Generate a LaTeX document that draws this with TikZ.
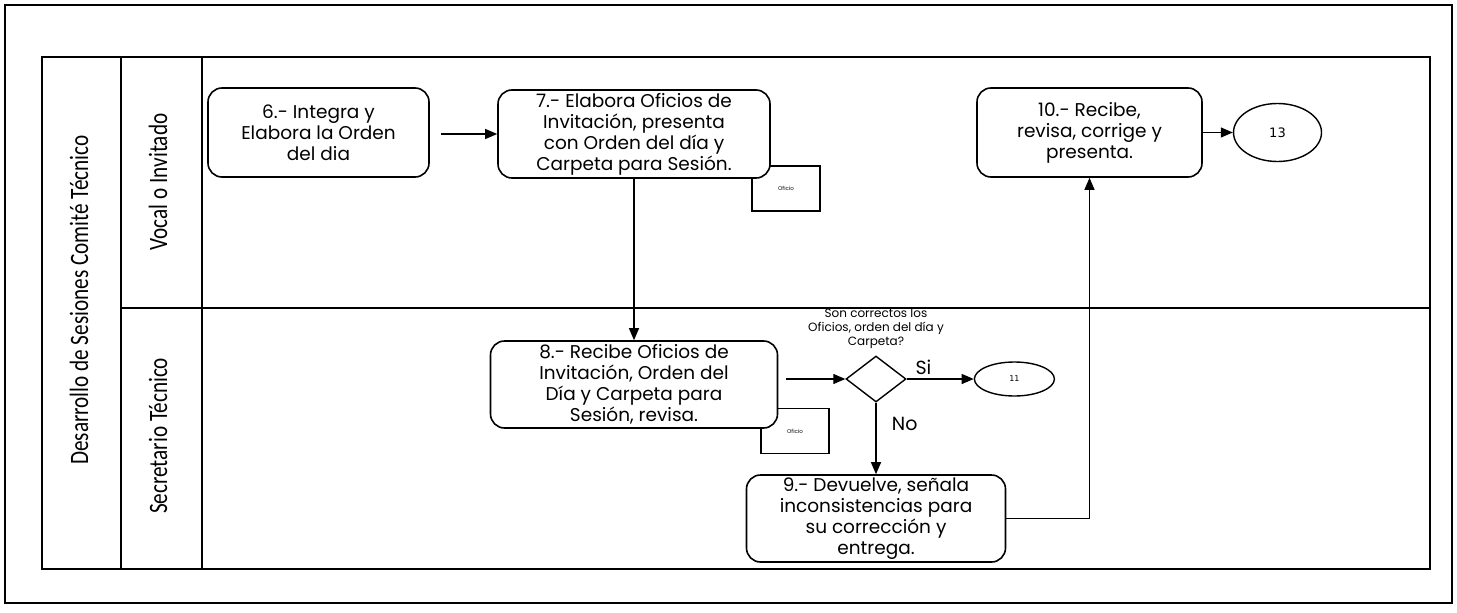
\documentclass[tikz,border=0pt]{standalone}
\usepackage{fontspec}
\usetikzlibrary{arrows.meta, positioning, shapes.geometric}
\newfontfamily\boxfont{Poppins}
\newfontfamily\lanefont[FakeStretch=0.8]{Carlito}
\newfontfamily\numfont{DejaVu Sans}

\begin{document}
\begin{tikzpicture}[x=1pt, y=-1pt,
  box/.style={draw, line width=1.6pt, rounded corners=14pt, align=center, fill=white,
              font=\boxfont\fontsize{18.5}{21}\selectfont, inner sep=0pt},
  doc/.style={draw, line width=1.4pt, fill=white, minimum width=68pt, minimum height=45pt,
              inner sep=0pt, font=\boxfont\fontsize{5.5}{6}\selectfont},
  decision/.style={draw, diamond, line width=1.4pt, minimum width=60pt, minimum height=46pt,
              inner sep=0pt, shape aspect=1.3},
  term/.style={draw, ellipse, line width=1.4pt, inner sep=0pt},
  lane/.style={rotate=90, font=\lanefont\fontsize{26.5}{30}\selectfont},
  ar/.style={-{Triangle[length=12pt, width=10pt]}, line width=1.2pt},
  lbl/.style={font=\boxfont\fontsize{19}{22}\selectfont}]
\fill[white] (0,0) rectangle (1457,613);
\useasboundingbox (0,0) rectangle (1457,613);
% frame and swimlanes
\draw[line width=1.4pt] (5,5) rectangle (1452,603);
\draw[line width=1.2pt] (42,57) rectangle (1430,569);
\draw[line width=1.2pt] (121,57) -- (121,569) (202,57) -- (202,569) (121,308) -- (1430,308);
\node[lane] (proc) at (79,300) {Desarrollo de Sesiones Comité Técnico};
\node[lane] (vocal) at (158,182) {Vocal o Invitado};
\node[lane] (secre) at (158,436) {Secretario Técnico};
% documents (behind the boxes)
\node[doc] (d7) at (786,188.5) {Oficio};
\node[doc] (d8) at (795,431) {Oficio};
% vocal lane
\node[box, minimum width=221pt, minimum height=89pt] (n6) at (318.5,132.5)
  {6.- Integra y\\Elabora la Orden\\del dia};
\node[box, minimum width=272pt, minimum height=88pt] (n7) at (634,134)
  {7.- Elabora Oficios de\\Invitación, presenta\\con Orden del día y\\Carpeta para Sesión.};
\node[box, minimum width=225pt, minimum height=89pt] (n10) at (1089.5,132.5)
  {10.- Recibe,\\revisa, corrige y\\presenta.};
\node[term, minimum width=88pt, minimum height=58pt, font=\numfont\fontsize{13}{15}\selectfont,
  right=30pt of n10] (t13) {13};
% secretario lane
\node[box, minimum width=287pt, minimum height=87pt] (n8) at (634,384.5)
  {8.- Recibe Oficios de\\Invitación, Orden del\\Día y Carpeta para\\Sesión, revisa.};
\node[decision] (q) at (876,379) {};
\node[above=3pt of q, align=center, font=\boxfont\fontsize{12}{14}\selectfont] (qtxt)
  {Son correctos los\\Oficios, orden del día y\\Carpeta?};
\node[term, minimum width=80pt, minimum height=34pt, font=\numfont\fontsize{8}{10}\selectfont,
  right=67pt of q] (t11) {11};
\node[box, minimum width=259pt, minimum height=87pt] (n9) at (876,518.5)
  {9.- Devuelve, señala\\inconsistencias para\\su corrección y\\entrega.};
% flow
\draw[ar, shorten <=11pt] (n6.east |- n7) -- (n7);
\draw[ar] (n7) -- (n8);
\draw[ar, shorten <=8pt] (n8.east |- q) -- (q);
\draw[ar] (q) -- node[lbl, above, pos=0.25] {Si} (t11);
\draw[ar] (q) -- node[lbl, right=12pt, pos=0.3] {No} (n9);
\draw[ar] (n9) -| (n10);
\draw[ar] (n10) -- (t13);
\end{tikzpicture}
\end{document}
